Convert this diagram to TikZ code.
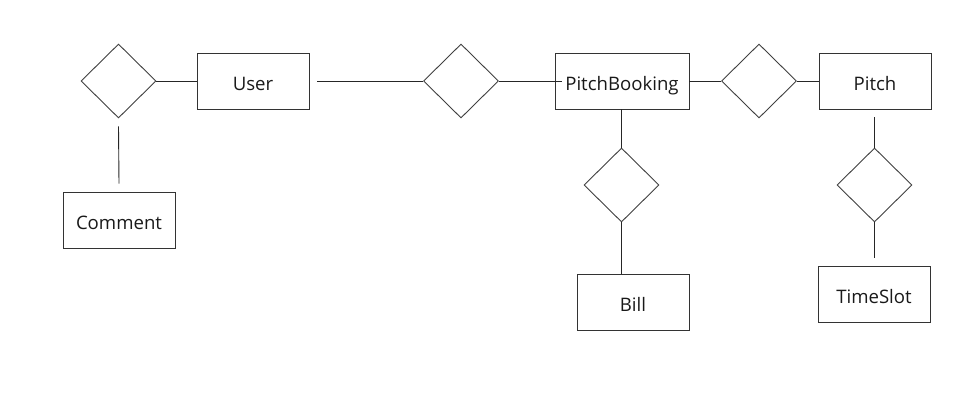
\documentclass[tikz,border=0pt]{standalone}
\usepackage{fontspec}
\setmainfont{Open Sans}
\usetikzlibrary{shapes.geometric}
\begin{document}
\begin{tikzpicture}[x=1pt,y=-1pt,
  ent/.style={draw=black!80, line width=0.9pt, rectangle, minimum height=56pt, minimum width=112pt, inner sep=0pt, text height=19pt, text depth=0pt, font=\fontsize{18.6}{21}\selectfont, text=black!90},
  rel/.style={draw=black!75, line width=0.9pt, diamond, minimum width=75pt, minimum height=74pt, inner sep=0pt},
  conn/.style={draw=black!85, line width=0.9pt}]
\useasboundingbox (0,0) rectangle (977,418);
\node[rel] (d1) at (118.5,81) {};
\node[ent] (user) at (253,81) {User};
\node[rel] (d2) at (461,81) {};
\node[ent, minimum width=134pt] (pb) at (622,81) {PitchBooking};
\node[rel] (d3) at (759,81) {};
\node[ent] (pitch) at (875,81) {Pitch};
\node[ent] (comment) at (119,220) {Comment};
\node[rel] (d4) at (621.5,185) {};
\node[ent] (bill) at (633,302) {Bill};
\node[rel] (d5) at (874.5,185) {};
\node[ent] (ts) at (874,294) {TimeSlot};

\draw[conn] (d1.east) -- (user.west);
\draw[conn] ([xshift=8pt]user.east) -- (d2.west);
\draw[conn] (d2.east) -- ([xshift=7pt]pb.west);
\draw[conn] (pb.east) -- (d3.west);
\draw[conn] (d3.east) -- (pitch.west);
\draw[conn] ([yshift=-8pt]d1.south) -- ([yshift=8pt]comment.north);
\draw[conn] (pb.south -| d4.north) -- (d4.north);
\draw[conn] (d4.south) -- (d4.south |- bill.north);
\draw[conn] ([yshift=-8pt]pitch.south -| d5.north) -- (d5.north);
\draw[conn] (d5.south) -- ([yshift=8pt]d5.south |- ts.north);
\end{tikzpicture}
\end{document}
